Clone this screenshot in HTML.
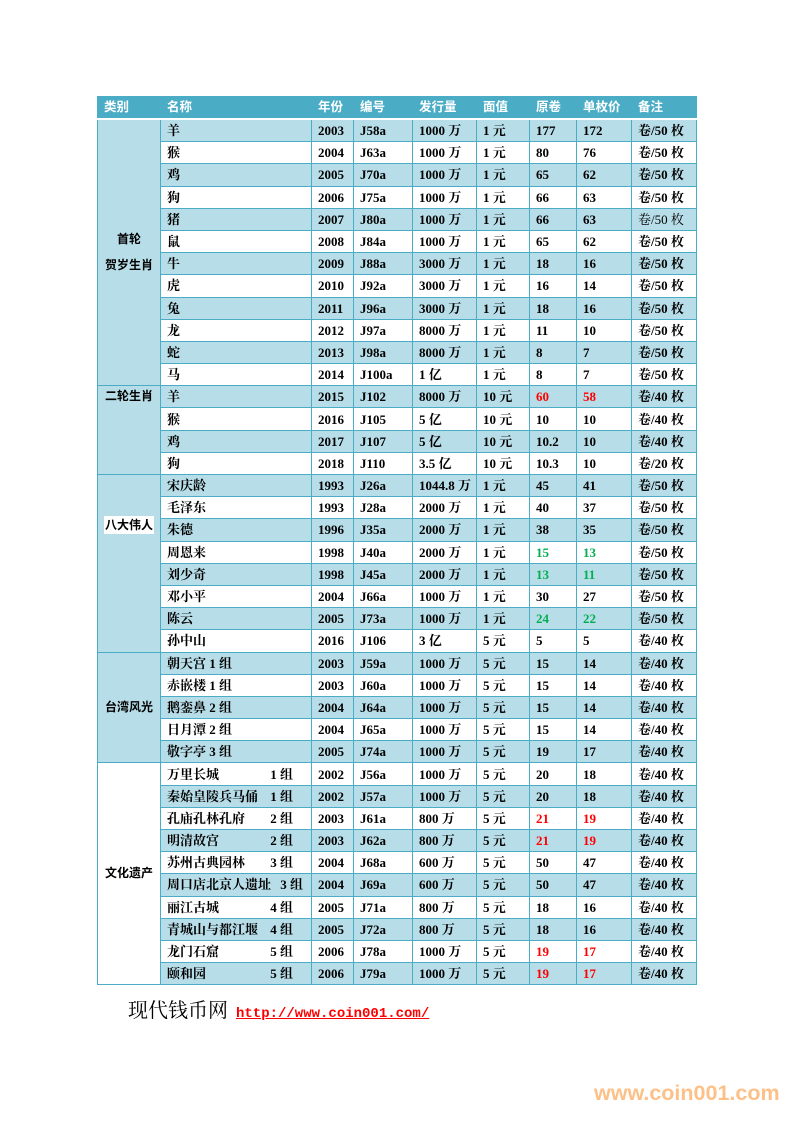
<!DOCTYPE html>
<html><head><meta charset="utf-8"><style>
body{margin:0;background:#fff;width:793px;height:1122px;position:relative;overflow:hidden}
table{position:absolute;left:97px;top:96px;border-collapse:collapse;table-layout:fixed;width:599px;font-family:"Liberation Serif","Noto Serif CJK SC",serif;font-weight:bold;font-size:13px;color:#000}
td,th{border:1px solid #4bacc6;padding:0 0 0 6px;white-space:nowrap;overflow:hidden;height:21.2px;line-height:13px}
th{background:#4bacc6;color:#fff;text-align:left;font-family:"Liberation Sans","Noto Sans CJK SC",sans-serif;font-size:12.5px;height:21px;border-bottom:2px solid #fff}
tr.b td{background:#b7dde8}
td.c{text-align:center;padding:0;font-size:12px;background:#fff;font-family:"Liberation Sans","Noto Sans CJK SC",sans-serif}
td.cb{background:#b7dde8 !important}
.r{color:#f00}.g{color:#00b050}
.n{float:right;padding-right:18px}
.foot{position:absolute;left:128px;top:994px;font-family:"Liberation Serif","Noto Serif CJK SC",serif;font-size:20px}
.foot a{color:#f00;font-family:"Liberation Mono",monospace;font-size:14px;text-decoration:underline;font-weight:bold;margin-left:3px}
.wm{position:absolute;left:594px;top:1081px;color:#fdc088;font-family:"Liberation Sans",sans-serif;font-weight:bold;font-size:21.5px}
</style></head><body>
<table>
<colgroup><col style="width:63px"><col style="width:151px"><col style="width:42px"><col style="width:59px"><col style="width:64px"><col style="width:53px"><col style="width:47px"><col style="width:55px"><col style="width:65px"></colgroup>
<tr><th>类别</th><th>名称</th><th>年份</th><th>编号</th><th>发行量</th><th>面值</th><th>原卷</th><th>单枚价</th><th>备注</th></tr>
<tr class="b"><td class="c cb" rowspan="12">首轮<br><br>贺岁生肖</td><td>羊</td><td>2003</td><td>J58a</td><td>1000 万</td><td>1 元</td><td>177</td><td>172</td><td>卷/50 枚</td></tr>
<tr><td>猴</td><td>2004</td><td>J63a</td><td>1000 万</td><td>1 元</td><td>80</td><td>76</td><td>卷/50 枚</td></tr>
<tr class="b"><td>鸡</td><td>2005</td><td>J70a</td><td>1000 万</td><td>1 元</td><td>65</td><td>62</td><td>卷/50 枚</td></tr>
<tr><td>狗</td><td>2006</td><td>J75a</td><td>1000 万</td><td>1 元</td><td>66</td><td>63</td><td>卷/50 枚</td></tr>
<tr class="b"><td>猪</td><td>2007</td><td>J80a</td><td>1000 万</td><td>1 元</td><td>66</td><td>63</td><td style="font-weight:normal">卷/50 枚</td></tr>
<tr><td>鼠</td><td>2008</td><td>J84a</td><td>1000 万</td><td>1 元</td><td>65</td><td>62</td><td>卷/50 枚</td></tr>
<tr class="b"><td>牛</td><td>2009</td><td>J88a</td><td>3000 万</td><td>1 元</td><td>18</td><td>16</td><td>卷/50 枚</td></tr>
<tr><td>虎</td><td>2010</td><td>J92a</td><td>3000 万</td><td>1 元</td><td>16</td><td>14</td><td>卷/50 枚</td></tr>
<tr class="b"><td>兔</td><td>2011</td><td>J96a</td><td>3000 万</td><td>1 元</td><td>18</td><td>16</td><td>卷/50 枚</td></tr>
<tr><td>龙</td><td>2012</td><td>J97a</td><td>8000 万</td><td>1 元</td><td>11</td><td>10</td><td>卷/50 枚</td></tr>
<tr class="b"><td>蛇</td><td>2013</td><td>J98a</td><td>8000 万</td><td>1 元</td><td>8</td><td>7</td><td>卷/50 枚</td></tr>
<tr><td>马</td><td>2014</td><td>J100a</td><td>1 亿</td><td>1 元</td><td>8</td><td>7</td><td>卷/50 枚</td></tr>
<tr class="b"><td class="c cb" rowspan="4" style="vertical-align:top;padding-top:4px">二轮生肖</td><td>羊</td><td>2015</td><td>J102</td><td>8000 万</td><td>10 元</td><td class="r">60</td><td class="r">58</td><td>卷/40 枚</td></tr>
<tr><td>猴</td><td>2016</td><td>J105</td><td>5 亿</td><td>10 元</td><td>10</td><td>10</td><td>卷/40 枚</td></tr>
<tr class="b"><td>鸡</td><td>2017</td><td>J107</td><td>5 亿</td><td>10 元</td><td>10.2</td><td>10</td><td>卷/40 枚</td></tr>
<tr><td>狗</td><td>2018</td><td>J110</td><td>3.5 亿</td><td>10 元</td><td>10.3</td><td>10</td><td>卷/20 枚</td></tr>
<tr class="b"><td class="c cb" rowspan="8" style="vertical-align:top;padding-top:44px"><span style="background:#fff;padding:2px 1px">八大伟人</span></td><td>宋庆龄</td><td>1993</td><td>J26a</td><td>1044.8 万</td><td>1 元</td><td>45</td><td>41</td><td>卷/50 枚</td></tr>
<tr><td>毛泽东</td><td>1993</td><td>J28a</td><td>2000 万</td><td>1 元</td><td>40</td><td>37</td><td>卷/50 枚</td></tr>
<tr class="b"><td>朱德</td><td>1996</td><td>J35a</td><td>2000 万</td><td>1 元</td><td>38</td><td>35</td><td>卷/50 枚</td></tr>
<tr><td>周恩来</td><td>1998</td><td>J40a</td><td>2000 万</td><td>1 元</td><td class="g">15</td><td class="g">13</td><td>卷/50 枚</td></tr>
<tr class="b"><td>刘少奇</td><td>1998</td><td>J45a</td><td>2000 万</td><td>1 元</td><td class="g">13</td><td class="g">11</td><td>卷/50 枚</td></tr>
<tr><td>邓小平</td><td>2004</td><td>J66a</td><td>1000 万</td><td>1 元</td><td>30</td><td>27</td><td>卷/50 枚</td></tr>
<tr class="b"><td>陈云</td><td>2005</td><td>J73a</td><td>1000 万</td><td>1 元</td><td class="g">24</td><td class="g">22</td><td>卷/50 枚</td></tr>
<tr><td>孙中山</td><td>2016</td><td>J106</td><td>3 亿</td><td>5 元</td><td>5</td><td>5</td><td>卷/40 枚</td></tr>
<tr class="b"><td class="c cb" rowspan="5">台湾风光</td><td>朝天宫 1 组</td><td>2003</td><td>J59a</td><td>1000 万</td><td>5 元</td><td>15</td><td>14</td><td>卷/40 枚</td></tr>
<tr><td>赤嵌楼 1 组</td><td>2003</td><td>J60a</td><td>1000 万</td><td>5 元</td><td>15</td><td>14</td><td>卷/40 枚</td></tr>
<tr class="b"><td>鹅銮鼻 2 组</td><td>2004</td><td>J64a</td><td>1000 万</td><td>5 元</td><td>15</td><td>14</td><td>卷/40 枚</td></tr>
<tr><td>日月潭 2 组</td><td>2004</td><td>J65a</td><td>1000 万</td><td>5 元</td><td>15</td><td>14</td><td>卷/40 枚</td></tr>
<tr class="b"><td>敬字亭 3 组</td><td>2005</td><td>J74a</td><td>1000 万</td><td>5 元</td><td>19</td><td>17</td><td>卷/40 枚</td></tr>
<tr><td class="c" rowspan="10">文化遗产</td><td>万里长城<span class="n">1 组</span></td><td>2002</td><td>J56a</td><td>1000 万</td><td>5 元</td><td>20</td><td>18</td><td>卷/40 枚</td></tr>
<tr class="b"><td>秦始皇陵兵马俑<span class="n">1 组</span></td><td>2002</td><td>J57a</td><td>1000 万</td><td>5 元</td><td>20</td><td>18</td><td>卷/40 枚</td></tr>
<tr><td>孔庙孔林孔府<span class="n">2 组</span></td><td>2003</td><td>J61a</td><td>800 万</td><td>5 元</td><td class="r">21</td><td class="r">19</td><td>卷/40 枚</td></tr>
<tr class="b"><td>明清故宫<span class="n">2 组</span></td><td>2003</td><td>J62a</td><td>800 万</td><td>5 元</td><td class="r">21</td><td class="r">19</td><td>卷/40 枚</td></tr>
<tr><td>苏州古典园林<span class="n">3 组</span></td><td>2004</td><td>J68a</td><td>600 万</td><td>5 元</td><td>50</td><td>47</td><td>卷/40 枚</td></tr>
<tr class="b"><td>周口店北京人遗址<span class="n" style="padding-right:8px">3 组</span></td><td>2004</td><td>J69a</td><td>600 万</td><td>5 元</td><td>50</td><td>47</td><td>卷/40 枚</td></tr>
<tr><td>丽江古城<span class="n">4 组</span></td><td>2005</td><td>J71a</td><td>800 万</td><td>5 元</td><td>18</td><td>16</td><td>卷/40 枚</td></tr>
<tr class="b"><td>青城山与都江堰<span class="n">4 组</span></td><td>2005</td><td>J72a</td><td>800 万</td><td>5 元</td><td>18</td><td>16</td><td>卷/40 枚</td></tr>
<tr><td>龙门石窟<span class="n">5 组</span></td><td>2006</td><td>J78a</td><td>1000 万</td><td>5 元</td><td class="r">19</td><td class="r">17</td><td>卷/40 枚</td></tr>
<tr class="b"><td>颐和园<span class="n">5 组</span></td><td>2006</td><td>J79a</td><td>1000 万</td><td>5 元</td><td class="r">19</td><td class="r">17</td><td>卷/40 枚</td></tr>
</table>
<div class="foot">现代钱币网 <a>http://www.coin001.com/</a></div>
<div class="wm">www.coin001.com</div>
</body></html>
